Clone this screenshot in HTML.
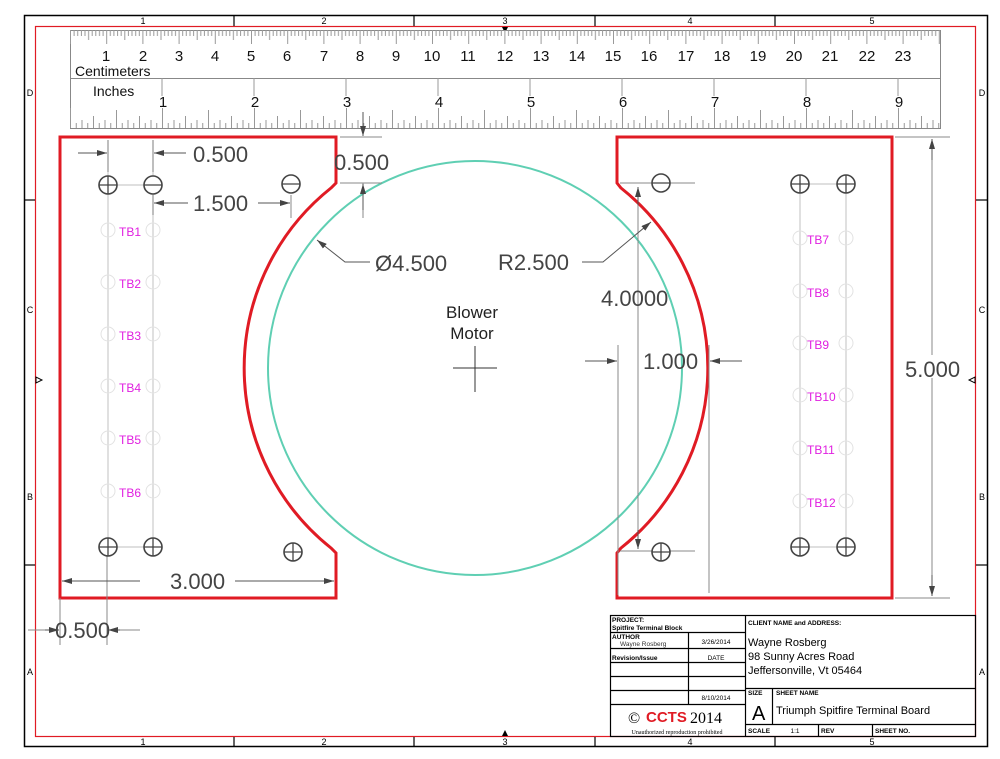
<!DOCTYPE html>
<html><head><meta charset="utf-8"><style>
html,body{margin:0;padding:0;background:#fff;}
svg{display:block;font-family:"Liberation Sans",Arial,sans-serif;}
</style></head><body>
<svg width="1000" height="759" viewBox="0 0 1000 759" xmlns="http://www.w3.org/2000/svg">
<defs>
<pattern id="cm" x="70" y="30" width="36.2" height="20" patternUnits="userSpaceOnUse">
<g stroke="#999" stroke-width="1">
<line x1="0.5" y1="0" x2="0.5" y2="14"/>
<line x1="4.1" y1="0" x2="4.1" y2="6"/><line x1="7.7" y1="0" x2="7.7" y2="6"/><line x1="11.4" y1="0" x2="11.4" y2="6"/><line x1="15" y1="0" x2="15" y2="6"/>
<line x1="18.6" y1="0" x2="18.6" y2="10"/>
<line x1="22.2" y1="0" x2="22.2" y2="6"/><line x1="25.8" y1="0" x2="25.8" y2="6"/><line x1="29.5" y1="0" x2="29.5" y2="6"/><line x1="33.1" y1="0" x2="33.1" y2="6"/>
</g></pattern>
<pattern id="inch" x="70" y="108" width="92" height="20" patternUnits="userSpaceOnUse">
<g stroke="#999" stroke-width="1">
<line x1="0.5" y1="0" x2="0.5" y2="20"/>
<line x1="6.25" y1="15" x2="6.25" y2="20"/><line x1="12" y1="12" x2="12" y2="20"/><line x1="17.75" y1="15" x2="17.75" y2="20"/>
<line x1="23.5" y1="8" x2="23.5" y2="20"/><line x1="29.25" y1="15" x2="29.25" y2="20"/><line x1="35" y1="12" x2="35" y2="20"/><line x1="40.75" y1="15" x2="40.75" y2="20"/>
<line x1="46.5" y1="2" x2="46.5" y2="20"/><line x1="52.25" y1="15" x2="52.25" y2="20"/><line x1="58" y1="12" x2="58" y2="20"/><line x1="63.75" y1="15" x2="63.75" y2="20"/>
<line x1="69.5" y1="8" x2="69.5" y2="20"/><line x1="75.25" y1="15" x2="75.25" y2="20"/><line x1="81" y1="12" x2="81" y2="20"/><line x1="86.75" y1="15" x2="86.75" y2="20"/>
</g></pattern>
<marker id="ar" viewBox="0 0 10 6" refX="10" refY="3" markerWidth="10" markerHeight="6" orient="auto" markerUnits="userSpaceOnUse"><path d="M0,0L10,3L0,6Z" fill="#444"/></marker>
<marker id="al" viewBox="0 0 10 6" refX="0" refY="3" markerWidth="10" markerHeight="6" orient="auto" markerUnits="userSpaceOnUse"><path d="M10,0L0,3L10,6Z" fill="#444"/></marker>
</defs>

<!-- frame -->
<rect x="24.5" y="15.5" width="963" height="731" fill="none" stroke="#000" stroke-width="1.5"/>
<rect x="35.5" y="26.5" width="940" height="710" fill="none" stroke="#e01b24" stroke-width="1.2"/>
<g stroke="#000" stroke-width="1.2">
<line x1="234" y1="15" x2="234" y2="26"/><line x1="414" y1="15" x2="414" y2="26"/><line x1="595" y1="15" x2="595" y2="26"/><line x1="775" y1="15" x2="775" y2="26"/>
<line x1="234" y1="737" x2="234" y2="747"/><line x1="414" y1="737" x2="414" y2="747"/><line x1="595" y1="737" x2="595" y2="747"/><line x1="775" y1="737" x2="775" y2="747"/>
<line x1="24" y1="200" x2="35" y2="200"/><line x1="24" y1="565" x2="35" y2="565"/>
<line x1="976" y1="200" x2="988" y2="200"/><line x1="976" y1="565" x2="988" y2="565"/>
</g>
<g font-size="9" fill="#000" text-anchor="middle">
<text x="143" y="24">1</text><text x="324" y="24">2</text><text x="505" y="24">3</text><text x="690" y="24">4</text><text x="872" y="24">5</text>
<text x="143" y="745">1</text><text x="324" y="745">2</text><text x="505" y="745">3</text><text x="690" y="745">4</text><text x="872" y="745">5</text>
<text x="30" y="96">D</text><text x="30" y="313">C</text><text x="30" y="500">B</text><text x="30" y="675">A</text>
<text x="982" y="96">D</text><text x="982" y="313">C</text><text x="982" y="500">B</text><text x="982" y="675">A</text>
</g>
<path d="M502,27 L508,27 L505,33Z" fill="#000"/><path d="M502,736 L508,736 L505,730Z" fill="#000"/>
<path d="M36,377 L36,383 L42,380Z" fill="none" stroke="#000"/><path d="M975,377 L975,383 L969,380Z" fill="none" stroke="#000"/>

<!-- ruler -->
<rect x="70.5" y="30.5" width="870" height="98" fill="#fff" stroke="#888" stroke-width="1"/>
<line x1="70" y1="78.5" x2="940" y2="78.5" stroke="#888"/>
<rect x="70" y="30" width="870" height="20" fill="url(#cm)"/>
<rect x="70" y="108" width="870" height="20" fill="url(#inch)"/>
<g stroke="#999"><line x1="162" y1="78" x2="162" y2="96"/><line x1="254" y1="78" x2="254" y2="96"/><line x1="346" y1="78" x2="346" y2="96"/><line x1="438" y1="78" x2="438" y2="96"/><line x1="530" y1="78" x2="530" y2="96"/><line x1="622" y1="78" x2="622" y2="96"/><line x1="714" y1="78" x2="714" y2="96"/><line x1="806" y1="78" x2="806" y2="96"/><line x1="898" y1="78" x2="898" y2="96"/></g>
<g font-size="15" fill="#111" text-anchor="middle">
<text x="106" y="61">1</text><text x="143" y="61">2</text><text x="179" y="61">3</text><text x="215" y="61">4</text><text x="251" y="61">5</text><text x="287" y="61">6</text><text x="324" y="61">7</text><text x="360" y="61">8</text><text x="396" y="61">9</text><text x="432" y="61">10</text><text x="468" y="61">11</text><text x="505" y="61">12</text><text x="541" y="61">13</text><text x="577" y="61">14</text><text x="613" y="61">15</text><text x="649" y="61">16</text><text x="686" y="61">17</text><text x="722" y="61">18</text><text x="758" y="61">19</text><text x="794" y="61">20</text><text x="830" y="61">21</text><text x="867" y="61">22</text><text x="903" y="61">23</text>
<text x="163" y="107">1</text><text x="255" y="107">2</text><text x="347" y="107">3</text><text x="439" y="107">4</text><text x="531" y="107">5</text><text x="623" y="107">6</text><text x="715" y="107">7</text><text x="807" y="107">8</text><text x="899" y="107">9</text>
</g>
<text x="75" y="76" font-size="14" fill="#111">Centimeters</text>
<text x="93" y="96" font-size="14" fill="#111">Inches</text>

<!-- green circle -->
<circle cx="475" cy="368" r="207" fill="none" stroke="#5fcfb3" stroke-width="2"/>

<!-- red panels -->
<path d="M60,137 L336,137 L336,183 L331,188 A230,230 0 0 0 331,548 L336,553 L336,598 L60,598 Z" fill="none" stroke="#e01b24" stroke-width="3"/>
<path d="M617,137 L892,137 L892,598 L617,598 L617,553 L621,548 A230,230 0 0 0 621,188 L617,183 Z" fill="none" stroke="#e01b24" stroke-width="3"/>

<!-- light gray TB lines -->
<g stroke="#ccc" stroke-width="1.2" fill="none">
<line x1="108" y1="140" x2="108" y2="547"/><line x1="153" y1="140" x2="153" y2="547"/>
<line x1="108" y1="185" x2="153" y2="185"/><line x1="108" y1="547" x2="153" y2="547"/>
<line x1="800" y1="184" x2="800" y2="547"/><line x1="846" y1="184" x2="846" y2="547"/>
<line x1="800" y1="184" x2="846" y2="184"/><line x1="800" y1="547" x2="846" y2="547"/>
</g>
<g stroke="#e2e2e2" stroke-width="1" fill="none">
<circle cx="108" cy="230" r="7"/><circle cx="153" cy="230" r="7"/>
<circle cx="108" cy="282" r="7"/><circle cx="153" cy="282" r="7"/>
<circle cx="108" cy="334" r="7"/><circle cx="153" cy="334" r="7"/>
<circle cx="108" cy="386" r="7"/><circle cx="153" cy="386" r="7"/>
<circle cx="108" cy="438" r="7"/><circle cx="153" cy="438" r="7"/>
<circle cx="108" cy="491" r="7"/><circle cx="153" cy="491" r="7"/>
<circle cx="800" cy="238" r="7"/><circle cx="846" cy="238" r="7"/>
<circle cx="800" cy="291" r="7"/><circle cx="846" cy="291" r="7"/>
<circle cx="800" cy="343" r="7"/><circle cx="846" cy="343" r="7"/>
<circle cx="800" cy="395" r="7"/><circle cx="846" cy="395" r="7"/>
<circle cx="800" cy="448" r="7"/><circle cx="846" cy="448" r="7"/>
<circle cx="800" cy="501" r="7"/><circle cx="846" cy="501" r="7"/>
</g>
<g font-size="12" fill="#e020e0">
<text x="119" y="236">TB1</text><text x="119" y="288">TB2</text><text x="119" y="340">TB3</text><text x="119" y="392">TB4</text><text x="119" y="444">TB5</text><text x="119" y="497">TB6</text>
<text x="807" y="244">TB7</text><text x="807" y="297">TB8</text><text x="807" y="349">TB9</text><text x="807" y="401">TB10</text><text x="807" y="454">TB11</text><text x="807" y="507">TB12</text>
</g>

<!-- dimension lines -->
<g stroke="#888" stroke-width="1" fill="none">
<line x1="108" y1="140" x2="108" y2="172"/><line x1="153" y1="140" x2="153" y2="172"/>
<line x1="153" y1="195" x2="153" y2="215"/><line x1="291" y1="195" x2="291" y2="218"/>
<line x1="340" y1="137" x2="382" y2="137"/><line x1="340" y1="183" x2="382" y2="183"/>
<line x1="363" y1="183" x2="363" y2="218"/>
<line x1="620" y1="183" x2="695" y2="183"/>
<line x1="620" y1="551" x2="695" y2="551"/>
<line x1="638" y1="188" x2="638" y2="548"/>
<line x1="618" y1="345" x2="618" y2="595"/><line x1="709" y1="345" x2="709" y2="593"/>
<line x1="895" y1="137" x2="950" y2="137"/><line x1="895" y1="598" x2="950" y2="598"/>
<line x1="932" y1="378" x2="932" y2="596"/><line x1="932" y1="140" x2="932" y2="355"/>
<line x1="60" y1="598" x2="60" y2="645"/><line x1="107" y1="555" x2="107" y2="645"/>
<line x1="28" y1="630" x2="52" y2="630"/><line x1="114" y1="630" x2="140" y2="630"/>
</g>
<g stroke="#555" stroke-width="1" fill="none">
<line x1="78" y1="153" x2="107" y2="153" marker-end="url(#ar)"/>
<line x1="186" y1="153" x2="154" y2="153" marker-end="url(#ar)"/>
<line x1="188" y1="203" x2="154" y2="203" marker-end="url(#ar)"/>
<line x1="258" y1="203" x2="290" y2="203" marker-end="url(#ar)"/>
<line x1="363" y1="112" x2="363" y2="136" marker-end="url(#ar)"/>
<line x1="363" y1="210" x2="363" y2="184" marker-end="url(#ar)"/>
<polyline points="370,262 345,262 317,240" marker-end="url(#ar)"/>
<polyline points="582,262 603,262 651,222" marker-end="url(#ar)"/>
<line x1="638" y1="205" x2="638" y2="187" marker-end="url(#ar)"/>
<line x1="638" y1="530" x2="638" y2="549" marker-end="url(#ar)"/>
<line x1="585" y1="361" x2="617" y2="361" marker-end="url(#ar)"/>
<line x1="742" y1="361" x2="710" y2="361" marker-end="url(#ar)"/>
<line x1="932" y1="160" x2="932" y2="139" marker-end="url(#ar)"/>
<line x1="932" y1="575" x2="932" y2="596" marker-end="url(#ar)"/>
<line x1="140" y1="581" x2="62" y2="581" marker-end="url(#ar)"/>
<line x1="235" y1="581" x2="334" y2="581" marker-end="url(#ar)"/>
<line x1="45" y1="630" x2="59" y2="630" marker-end="url(#ar)"/>
<line x1="120" y1="630" x2="108" y2="630" marker-end="url(#ar)"/>
</g>
<rect x="145" y="568" width="86" height="24" fill="#fff"/>
<g font-size="22" fill="#444">
<text x="193" y="162">0.500</text>
<text x="193" y="211">1.500</text>
<text x="334" y="170">0.500</text>
<text x="375" y="271">Ø4.500</text>
<text x="498" y="270">R2.500</text>
<text x="601" y="306">4.0000</text>
<text x="643" y="369">1.000</text>
<text x="905" y="377">5.000</text>
<text x="170" y="589">3.000</text>
<text x="55" y="638">0.500</text>
</g>
<text x="472" y="318" font-size="17" fill="#222" text-anchor="middle">Blower</text>
<text x="472" y="339" font-size="17" fill="#222" text-anchor="middle">Motor</text>
<g stroke="#333" stroke-width="1"><line x1="453" y1="368" x2="497" y2="368"/><line x1="475" y1="346" x2="475" y2="392"/></g>

<!-- holes -->
<g stroke="#444" stroke-width="1.6" fill="#fff">
<circle cx="108" cy="185" r="9"/><circle cx="153" cy="185" r="9"/><circle cx="291" cy="184" r="9"/>
<circle cx="108" cy="547" r="9"/><circle cx="153" cy="547" r="9"/><circle cx="293" cy="552" r="9"/>
<circle cx="661" cy="183" r="9"/><circle cx="661" cy="552" r="9"/>
<circle cx="800" cy="184" r="9"/><circle cx="846" cy="184" r="9"/>
<circle cx="800" cy="547" r="9"/><circle cx="846" cy="547" r="9"/>
</g>
<g stroke="#444" stroke-width="1.3">
<line x1="99" y1="185" x2="117" y2="185"/><line x1="108" y1="176" x2="108" y2="194"/>
<line x1="144" y1="185" x2="162" y2="185"/>
<line x1="282" y1="184" x2="300" y2="184"/>
<line x1="99" y1="547" x2="117" y2="547"/><line x1="108" y1="538" x2="108" y2="556"/>
<line x1="144" y1="547" x2="162" y2="547"/><line x1="153" y1="538" x2="153" y2="556"/>
<line x1="284" y1="552" x2="302" y2="552"/><line x1="293" y1="543" x2="293" y2="561"/>
<line x1="652" y1="183" x2="670" y2="183"/>
<line x1="652" y1="552" x2="670" y2="552"/><line x1="661" y1="543" x2="661" y2="561"/>
<line x1="791" y1="184" x2="809" y2="184"/><line x1="800" y1="175" x2="800" y2="193"/>
<line x1="837" y1="184" x2="855" y2="184"/><line x1="846" y1="175" x2="846" y2="193"/>
<line x1="791" y1="547" x2="809" y2="547"/><line x1="800" y1="538" x2="800" y2="556"/>
<line x1="837" y1="547" x2="855" y2="547"/><line x1="846" y1="538" x2="846" y2="556"/>
</g>

<!-- title block -->
<g stroke="#000" stroke-width="1.2" fill="none">
<rect x="610.5" y="615.5" width="365" height="121"/>
<line x1="745.5" y1="615" x2="745.5" y2="737"/>
<line x1="610" y1="632.5" x2="745" y2="632.5"/>
<line x1="610" y1="648.5" x2="745" y2="648.5"/>
<line x1="610" y1="662.5" x2="745" y2="662.5"/>
<line x1="610" y1="676.5" x2="745" y2="676.5"/>
<line x1="610" y1="690.5" x2="745" y2="690.5"/>
<line x1="610" y1="704.5" x2="745" y2="704.5"/>
<line x1="688.5" y1="632" x2="688.5" y2="705"/>
<line x1="745" y1="688.5" x2="976" y2="688.5"/>
<line x1="745" y1="724.5" x2="976" y2="724.5"/>
<line x1="772.5" y1="688" x2="772.5" y2="724"/>
<line x1="818.5" y1="724" x2="818.5" y2="737"/>
<line x1="872.5" y1="724" x2="872.5" y2="737"/>
</g>
<g fill="#000" font-size="6.5" font-weight="bold">
<text x="612" y="622">PROJECT:</text>
<text x="612" y="630">Spitfire Terminal Block</text>
<text x="612" y="639">AUTHOR</text>
<text x="612" y="660">Revision/Issue</text>
<text x="748" y="625">CLIENT NAME and ADDRESS:</text>
<text x="748" y="695">SIZE</text>
<text x="776" y="695">SHEET NAME</text>
<text x="748" y="733">SCALE</text>
<text x="821" y="733">REV</text>
<text x="875" y="733">SHEET NO.</text>
</g>
<g fill="#000" font-size="6.5">
<text x="620" y="646" fill="#333">Wayne Rosberg</text>
<text x="716" y="644" text-anchor="middle">3/26/2014</text>
<text x="716" y="660" text-anchor="middle">DATE</text>
<text x="716" y="700" text-anchor="middle">8/10/2014</text>
<text x="795" y="733" text-anchor="middle">1:1</text>
</g>
<g fill="#000" font-size="11">
<text x="748" y="646">Wayne Rosberg</text>
<text x="748" y="660">98 Sunny Acres Road</text>
<text x="748" y="674">Jeffersonville, Vt 05464</text>
<text x="776" y="714">Triumph Spitfire Terminal Board</text>
</g>
<text x="752" y="720" font-size="20" fill="#000">A</text>
<text x="628" y="723" font-size="16" fill="#000" font-family="Liberation Serif,serif">©</text>
<text x="646" y="722" font-size="15" fill="#e01b24" font-weight="bold">CCTS</text>
<text x="690" y="723" font-size="16" fill="#000" font-family="Liberation Serif,serif">2014</text>
<text x="677" y="734" font-size="6" fill="#000" text-anchor="middle" font-family="Liberation Serif,serif">Unauthorized reproduction prohibited</text>
</svg>
</body></html>
